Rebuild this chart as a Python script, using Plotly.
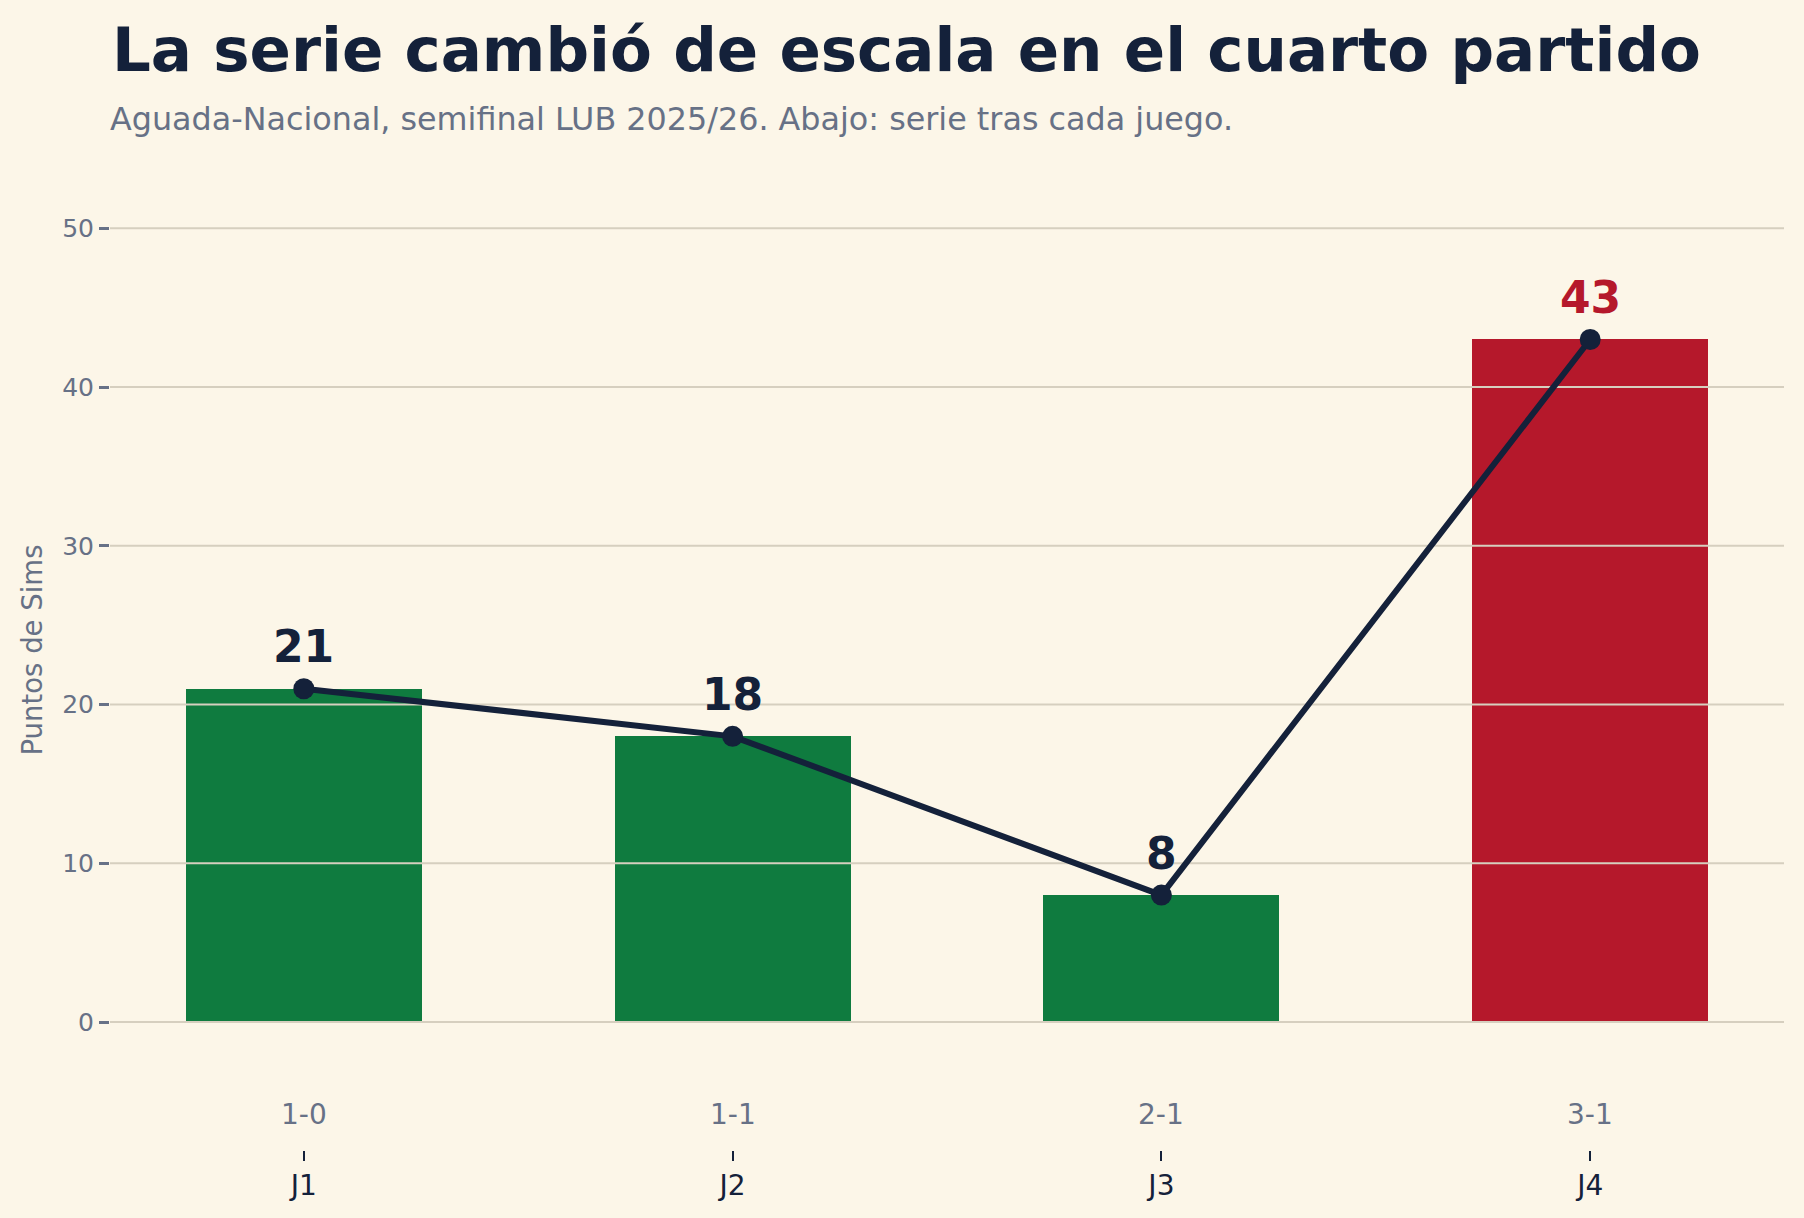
import plotly.graph_objects as go

# ---- data ----
games = ["J1", "J2", "J3", "J4"]
series_state = ["1-0", "1-1", "2-1", "3-1"]
points = [21, 18, 8, 43]
bar_colors = ["#0f7b3f", "#0f7b3f", "#0f7b3f", "#b5182b"]
label_colors = ["#14213a", "#14213a", "#14213a", "#b5182b"]
y_ticks = [0, 10, 20, 30, 40, 50]

TITLE = "La serie cambió de escala en el cuarto partido"
SUBTITLE = "Aguada-Nacional, semifinal LUB 2025/26. Abajo: serie tras cada juego."
YLABEL = "Puntos de Sims"

BG = "#fcf6e8"
DARK = "#14213a"
GREY = "#677186"
GRID = "#d6cfbf"
FONT = "DejaVu Sans"

x_pos = list(range(len(games)))
x_range = [-0.452, len(games) - 1 + 0.452]
y_range = [-8.06, 55]

fig = go.Figure()

fig.add_trace(go.Bar(
    x=x_pos, y=points, width=0.55,
    marker=dict(color=bar_colors, line=dict(width=0)),
    hoverinfo="skip", showlegend=False,
))

# gridlines drawn above bars but below the line
gx, gy = [], []
for t in y_ticks:
    gx += [x_range[0], x_range[1], None]
    gy += [t, t, None]
fig.add_trace(go.Scatter(
    x=gx, y=gy, mode="lines",
    line=dict(color=GRID, width=2),
    hoverinfo="skip", showlegend=False, cliponaxis=False,
))

fig.add_trace(go.Scatter(
    x=x_pos, y=points, mode="lines+markers",
    line=dict(color=DARK, width=6),
    marker=dict(color=DARK, size=21),
    hoverinfo="skip", showlegend=False, cliponaxis=False,
))

annotations = []
for i, v in enumerate(points):
    annotations.append(dict(
        x=x_pos[i], y=v, xref="x", yref="y", text=f"<b>{v}</b>",
        showarrow=False, yanchor="middle", xanchor="center", yshift=42,
        font=dict(family=FONT, size=44, color=label_colors[i]),
    ))
    annotations.append(dict(
        x=x_pos[i], y=0, xref="x", yref="y", text=series_state[i],
        showarrow=False, yanchor="middle", xanchor="center", yshift=-92,
        font=dict(family=FONT, size=28, color=GREY),
    ))

annotations.append(dict(
    x=0, y=1.0995, xref="paper", yref="paper", text=f"<b>{TITLE}</b>",
    showarrow=False, xanchor="left", yanchor="middle",
    font=dict(family=FONT, size=61, color=DARK),
))
annotations.append(dict(
    x=-0.001, y=1.030, xref="paper", yref="paper", text=SUBTITLE,
    showarrow=False, xanchor="left", yanchor="middle",
    font=dict(family=FONT, size=31.8, color=GREY),
))
annotations.append(dict(
    x=-0.0466, y=0.5, xref="paper", yref="paper", text=YLABEL,
    showarrow=False, xanchor="center", yanchor="middle", textangle=-90,
    font=dict(family=FONT, size=27.5, color=GREY),
))

fig.update_layout(
    width=1804, height=1218,
    margin=dict(l=110, r=20, t=149, b=68),
    paper_bgcolor=BG, plot_bgcolor=BG,
    font=dict(family=FONT, color=DARK),
    annotations=annotations,
    showlegend=False,
    bargap=0,
)
fig.update_xaxes(
    range=x_range, tickvals=x_pos, ticktext=games,
    showgrid=False, zeroline=False, showline=False,
    ticks="outside", ticklen=10, tickwidth=1.5, tickcolor=DARK,
    tickfont=dict(family=FONT, size=28, color=DARK),
)
fig.update_yaxes(
    range=y_range, tickvals=y_ticks,
    showgrid=False, zeroline=False, showline=False,
    ticks="outside", ticklen=10, tickwidth=2.5, tickcolor=GREY,
    tickfont=dict(family=FONT, size=25, color=GREY),
)

fig.write_html("out.html")
